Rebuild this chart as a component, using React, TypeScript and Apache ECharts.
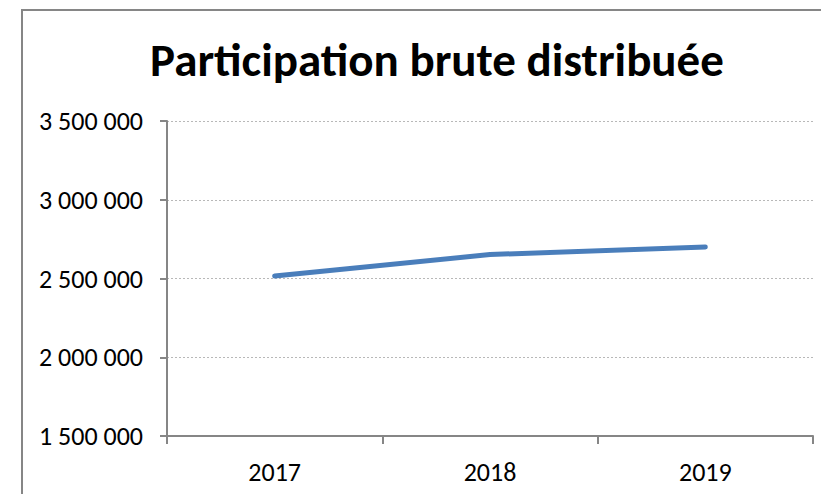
import React, { useEffect, useRef } from "react";
import * as echarts from "echarts";

const title = "Participation brute distribuée";
const categories = ["2017", "2018", "2019"];
const values = [2516000, 2652000, 2700000];
const yMin = 1500000;
const yMax = 3500000;
const yStep = 500000;

const FONT = "Carlito, Calibri, Lato, sans-serif";

function fmt(v: number): string {
  return String(v).replace(/\B(?=(\d{3})+(?!\d))/g, " ");
}

export default function App() {
  const ref = useRef<HTMLDivElement>(null);
  useEffect(() => {
    if (!ref.current) return;
    const chart = echarts.init(ref.current, null, { renderer: "svg" });
    chart.setOption({
      animation: false,
      backgroundColor: "#ffffff",
      title: {
        text: title,
        left: 432,
        textAlign: "center",
        top: 31,
        textStyle: { fontFamily: FONT, fontWeight: "bold", fontSize: 47, color: "#000000" },
      },
      graphic: [
        {
          type: "rect",
          shape: { x: 22, y: 10, width: 900, height: 600 },
          style: { fill: "none", stroke: "#868686", lineWidth: 2 },
          silent: true,
        },
      ],
      grid: { left: 167, top: 121, right: 8, bottom: 58 },
      xAxis: {
        type: "category",
        data: categories,
        boundaryGap: true,
        axisLine: { lineStyle: { color: "#868686", width: 2 } },
        axisTick: { show: true, interval: 0, length: 8, lineStyle: { color: "#868686", width: 2 } },
        axisLabel: { fontFamily: FONT, fontSize: 26, color: "#000000", margin: 23 },
        splitLine: { show: false },
      },
      yAxis: {
        type: "value",
        min: yMin,
        max: yMax,
        interval: yStep,
        axisLine: { show: true, lineStyle: { color: "#868686", width: 2 } },
        axisTick: { show: true, length: 7, lineStyle: { color: "#868686", width: 2 } },
        axisLabel: { fontFamily: FONT, fontSize: 26, color: "#000000", margin: 24, formatter: (v: number) => fmt(v) },
        splitLine: { show: true, lineStyle: { color: "#b8b8b8", type: [2, 2], width: 1 } },
      },
      series: [
        {
          type: "line",
          data: values,
          symbol: "none",
          lineStyle: { color: "#4a7ebb", width: 5, cap: "round", join: "round" },
        },
      ],
    });
    return () => chart.dispose();
  }, []);
  return (
    <div
      ref={ref}
      style={{ position: "fixed", left: 0, top: 0, width: 821, height: 494 }}
    />
  );
}
